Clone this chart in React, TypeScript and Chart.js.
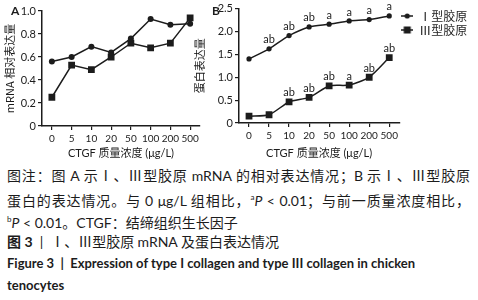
import React, { useEffect, useRef } from "react";
import { Chart, registerables } from "chart.js";
Chart.register(...registerables);

const categories = ["0", "5", "10", "20", "50", "100", "200", "500"];
const seriesNames = ["Ⅰ型胶原", "Ⅲ型胶原"];
const mrnaType1 = [0.56, 0.6, 0.69, 0.64, 0.76, 0.93, 0.88, 0.89];
const mrnaType3 = [0.25, 0.53, 0.49, 0.6, 0.72, 0.68, 0.72, 0.94];
const proteinType1 = [1.4, 1.62, 1.91, 2.1, 2.16, 2.23, 2.26, 2.34];
const proteinType3 = [0.15, 0.18, 0.46, 0.56, 0.81, 0.83, 1.0, 1.43];
const sigType1 = ["", "ab", "ab", "ab", "a", "a", "a", "a"];
const sigType3 = ["", "", "ab", "ab", "ab", "a", "ab", "ab"];
const xTitle = "CTGF 质量浓度 (μg/L)";
const yTitleA = "mRNA 相对表达量";
const yTitleB = "蛋白表达量";

const INK = "#1c1c1c";
const LAT = "Lato, 'Noto Sans CJK SC', sans-serif";
const CJK = "'Noto Sans CJK SC', Lato, sans-serif";

function legendIcon(shape: string) {
  const c = document.createElement("canvas");
  c.width = 12;
  c.height = 8;
  const g = c.getContext("2d")!;
  g.strokeStyle = INK;
  g.lineWidth = 1.5;
  g.beginPath();
  g.moveTo(0, 4);
  g.lineTo(12, 4);
  g.stroke();
  g.fillStyle = INK;
  if (shape === "circle") {
    g.beginPath();
    g.arc(6, 4, 2.6, 0, Math.PI * 2);
    g.fill();
  } else {
    g.fillRect(2.5, 0.5, 7, 7);
  }
  return c;
}

const sigPlugin = {
  id: "sig",
  afterDatasetsDraw(chart: any, _args: any, opts: any) {
    const labels = opts && opts.labels;
    if (!labels) return;
    const ctx = chart.ctx;
    ctx.save();
    ctx.font = `11px ${LAT}`;
    ctx.fillStyle = INK;
    ctx.textAlign = "center";
    ctx.textBaseline = "middle";
    chart.data.datasets.forEach((_ds: any, di: number) => {
      const meta = chart.getDatasetMeta(di);
      meta.data.forEach((pt: any, i: number) => {
        const s = labels[di] && labels[di][i];
        if (s) ctx.fillText(s, pt.x, pt.y - 9);
      });
    });
    ctx.restore();
  },
};

function makeScales(yMax: number, step: number, yTitle: string, yWidth: number, xHeight: number) {
  return {
    x: {
      type: "category" as const,
      offset: true,
      grid: { display: true, drawOnChartArea: false, drawTicks: true, tickLength: 4, color: INK, lineWidth: 1.2 },
      border: { display: true, color: INK, width: 1.5 },
      ticks: { color: INK, font: { family: LAT, size: 10 }, padding: 3, maxRotation: 0, autoSkip: false },
      title: { display: true, text: xTitle, color: INK, font: { family: LAT, size: 11 }, padding: { top: 2, bottom: 2 } },
      afterFit: (s: any) => {
        s.height = xHeight;
      },
    },
    y: {
      min: 0,
      max: yMax,
      grid: { display: true, drawOnChartArea: false, drawTicks: true, tickLength: 4, color: INK, lineWidth: 1.2 },
      border: { display: true, color: INK, width: 1.5 },
      ticks: {
        stepSize: step,
        color: INK,
        padding: 2,
        font: { family: LAT, size: 11 },
        callback: (v: any) => (Number(v) === 0 ? "0" : Number(v).toFixed(1)),
      },
      title: { display: true, text: yTitle, color: INK, font: { family: CJK, size: 11 }, padding: { top: 3, bottom: 2 } },
      afterFit: (s: any) => {
        s.width = yWidth;
      },
    },
  };
}

function ds(label: string, data: number[], shape: string, tension: number, r: number) {
  return {
    label,
    data,
    borderColor: INK,
    backgroundColor: INK,
    borderWidth: 1.5,
    pointStyle: shape,
    pointRadius: r,
    pointBackgroundColor: INK,
    pointBorderColor: INK,
    pointBorderWidth: 0,
    tension,
  };
}

export default function App() {
  const refA = useRef<HTMLCanvasElement>(null);
  const refB = useRef<HTMLCanvasElement>(null);

  useEffect(() => {
    document.body.style.margin = "0";
    document.body.style.background = "#fff";
    const icons = [legendIcon("circle"), legendIcon("rect")];

    const chartA = new Chart(refA.current!, {
      type: "line",
      data: {
        labels: categories,
        datasets: [ds(seriesNames[0], mrnaType1, "circle", 0, 3), ds(seriesNames[1], mrnaType3, "rect", 0, 4.8)],
      },
      options: {
        animation: false,
        responsive: false,
        devicePixelRatio: 1,
        layout: { padding: { top: 11, right: 30, bottom: 0, left: 0 } },
        plugins: { legend: { display: false }, tooltip: { enabled: false } },
        scales: makeScales(1.0, 0.2, yTitleA, 42, 36) as any,
      },
    });

    const chartB = new Chart(refB.current!, {
      type: "line",
      data: {
        labels: categories,
        datasets: [ds(seriesNames[0], proteinType1, "circle", 0.25, 2.6), ds(seriesNames[1], proteinType3, "rect", 0.25, 4.8)],
      },
      options: {
        animation: false,
        responsive: false,
        devicePixelRatio: 1,
        layout: { padding: { top: 8, right: 9, bottom: 0, left: 0 } },
        plugins: {
          legend: {
            display: true,
            position: "right",
            align: "start",
            labels: {
              usePointStyle: true,
              pointStyleWidth: 12,
              color: INK,
              font: { family: CJK, size: 12, lineHeight: 1.0 },
              padding: 2,
              generateLabels: (chart: any) =>
                chart.data.datasets.map((d: any, i: number) => ({
                  text: d.label,
                  pointStyle: icons[i],
                  datasetIndex: i,
                  fillStyle: INK,
                  strokeStyle: INK,
                  lineWidth: 0,
                  hidden: false,
                  fontColor: INK,
                })),
            },
          },
          tooltip: { enabled: false },
          sig: { labels: [sigType1, sigType3] },
        } as any,
        scales: makeScales(2.5, 0.5, yTitleB, 49, 39) as any,
      },
      plugins: [sigPlugin],
    });

    return () => {
      chartA.destroy();
      chartB.destroy();
    };
  }, []);

  const latin = { fontFamily: LAT };
  const lineStyle: React.CSSProperties = {
    height: 22,
    lineHeight: "22px",
    whiteSpace: "nowrap",
  };

  return (
    <div style={{ position: "absolute", left: 0, top: 0, width: 478, height: 300, background: "#fff", overflow: "hidden", color: INK }}>
      <canvas ref={refA} width={230} height={162} style={{ position: "absolute", left: 0, top: 0, width: 230, height: 162 }} />
      <canvas ref={refB} width={288} height={162} style={{ position: "absolute", left: 190, top: 0, width: 288, height: 162 }} />
      <div style={{ position: "absolute", left: 11, top: 3, fontFamily: LAT, fontWeight: 700, fontSize: 12 }}>A</div>
      <div style={{ position: "absolute", left: 212, top: 3, fontFamily: LAT, fontWeight: 700, fontSize: 12 }}>B</div>

      <div style={{ position: "absolute", left: 7, top: 164, width: 463, fontFamily: CJK, fontSize: 14 }}>
        <div style={{ ...lineStyle, textAlign: "justify", textAlignLast: "justify" }}>
          图注：图 <span style={latin}>A</span> 示Ⅰ、Ⅲ型胶原 <span style={latin}>mRNA</span> 的相对表达情况；<span style={latin}>B</span> 示Ⅰ、Ⅲ型胶原
        </div>
        <div style={{ ...lineStyle, textAlign: "justify", textAlignLast: "justify" }}>
          蛋白的表达情况。与 <span style={latin}>0 μg/L</span> 组相比，
          <span style={latin}>
            <sup style={{ fontSize: 8 }}>a</sup>
            <i>P</i> &lt; 0.01
          </span>
          ；与前一质量浓度相比，
        </div>
        <div style={lineStyle}>
          <span style={latin}>
            <sup style={{ fontSize: 8 }}>b</sup>
            <i>P</i> &lt; 0.01
          </span>
          。<span style={latin}>CTGF</span>：结缔组织生长因子
        </div>
        <div style={lineStyle}>
          <span style={{ ...latin, fontWeight: 700 }}>图 3</span>
          <span style={latin}>&nbsp;&nbsp;|&nbsp;&nbsp;</span>Ⅰ、Ⅲ型胶原 <span style={latin}>mRNA</span> 及蛋白表达情况
        </div>
        <div style={{ ...lineStyle, fontFamily: LAT, fontWeight: 700, fontSize: 13 }}>
          Figure 3 &nbsp;| &nbsp;Expression of type I collagen and type III collagen in chicken
        </div>
        <div style={{ ...lineStyle, fontFamily: LAT, fontWeight: 700, fontSize: 13 }}>tenocytes</div>
      </div>
    </div>
  );
}
